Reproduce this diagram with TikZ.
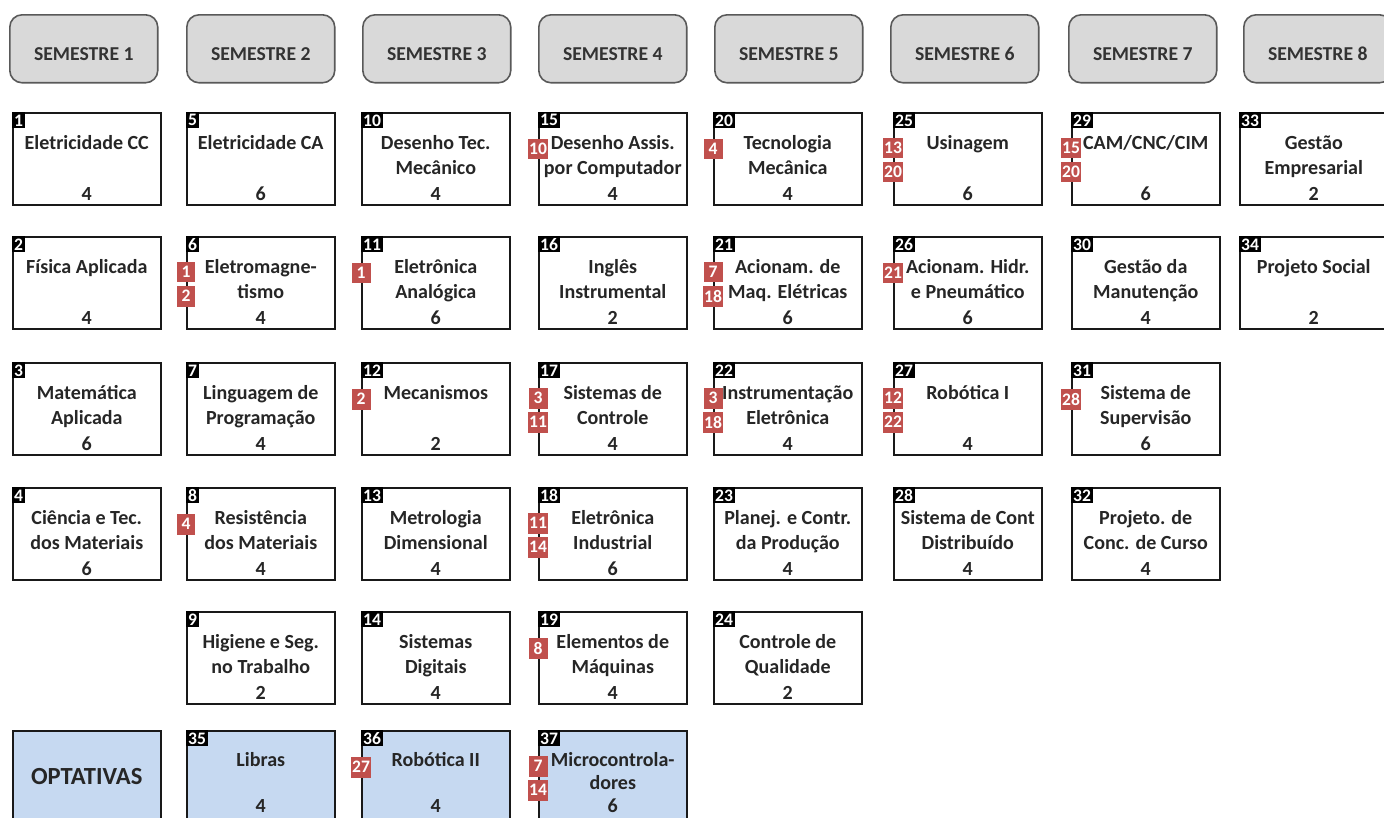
\documentclass[tikz,border=0pt]{standalone}
\usepackage{fontspec}
\setmainfont{Carlito}
\usetikzlibrary{calc,positioning}
\definecolor{semGray}{HTML}{D9D9D9}
\definecolor{semEdge}{HTML}{595959}
\definecolor{optBlue}{HTML}{C6D9F1}
\definecolor{reqRed}{HTML}{C0504D}
\tikzset{
  semester/.style={draw=semEdge, fill=semGray, line width=0.9pt,
    rounded corners=7pt, anchor=north west, minimum width=2.96cm,
    minimum height=1.36cm, inner ysep=0pt, text height=25.7pt,
    text depth=12.8pt, font=\fontsize{11.2}{12}\selectfont\bfseries,
    text=black!80},
  box/.style={draw=black!90, fill=white, line width=0.9pt,
    anchor=north west, minimum width=2.96cm, minimum height=1.84cm},
  course/.style={box, inner ysep=0pt, inner xsep=2pt, align=center,
    text height=49.6pt, text depth=2.5pt,
    font=\fontsize{11.4}{14.5}\selectfont\bfseries, text=black!85},
  optbox/.style={box, fill=optBlue,
    font=\fontsize{14}{16}\selectfont\bfseries, text=black!85},
  optional/.style={fill=optBlue, text height=46.6pt, text depth=5.5pt,
    font=\fontsize{11.4}{13.2}\selectfont\bfseries},
  idtag/.style={fill=black, text=white, anchor=north west,
    inner xsep=1pt, inner ysep=0.5pt, minimum height=0.32cm,
    font=\fontsize{10}{10}\selectfont\bfseries},
  reqtag/.style={fill=reqRed, text=white, minimum width=0.38cm,
    minimum height=0.42cm, inner sep=0.5pt,
    font=\fontsize{10}{10}\selectfont\bfseries}
}
% box with its number in the corner
\newcommand{\course}[5][]{%
  \node[course,#1] (c#2) at (#3,#4) {#5};
  \node[idtag] (t#2) at (c#2.north west) {#2};}
% prerequisite tag on the left edge
\newcommand{\req}[3]{%
  \node[reqtag] (r#1-#2) at ($(c#1.north west)+(0,#3)$) {#2};}

\begin{document}
\begin{tikzpicture}[x=0.02cm, y=-0.02cm]
  \path[use as bounding box, clip] (0,0) rectangle (1384,818);

  % semester headers
  \foreach \s/\x in {1/9, 2/186, 3/362, 4/538, 5/714, 6/890, 7/1068, 8/1243}
    \node[semester] (sem\s) at (\x,14) {SEMESTRE \s};

  % semester 1
  \course{1}{12}{112}{Eletricidade CC\\\mbox{}\\4}
  \course{2}{12}{236}{Física Aplicada\\\mbox{}\\4}
  \course{3}{12}{362}{Matemática\\Aplicada\\6}
  \course{4}{12}{487}{Ciência e Tec.\\dos Materiais\\6}
  % semester 2
  \course{5}{186}{112}{Eletricidade CA\\\mbox{}\\6}
  \course{6}{186}{236}{Eletromagne-\\tismo\\4}
  \course{7}{186}{362}{Linguagem de\\Programação\\4}
  \course{8}{186}{487}{Resistência\\dos Materiais\\4}
  \course{9}{186}{611}{Higiene e Seg.\\no Trabalho\\2}
  % semester 3
  \course{10}{361}{112}{Desenho Tec.\\Mecânico\\4}
  \course{11}{361}{236}{Eletrônica\\Analógica\\6}
  \course{12}{361}{362}{Mecanismos\\\mbox{}\\2}
  \course{13}{361}{487}{Metrologia\\Dimensional\\4}
  \course{14}{361}{611}{Sistemas\\Digitais\\4}
  % semester 4
  \course{15}{538}{112}{Desenho Assis.\\por Computador\\4}
  \course{16}{538}{236}{Inglês\\Instrumental\\2}
  \course{17}{538}{362}{Sistemas de\\Controle\\4}
  \course{18}{538}{487}{Eletrônica\\Industrial\\6}
  \course{19}{538}{611}{Elementos de\\Máquinas\\4}
  % semester 5
  \course{20}{713}{112}{Tecnologia\\Mecânica\\4}
  \course{21}{713}{236}{Acionam. de\\Maq. Elétricas\\6}
  \course{22}{713}{362}{Instrumentação\\Eletrônica\\4}
  \course{23}{713}{487}{Planej. e Contr.\\da Produção\\4}
  \course{24}{713}{611}{Controle de\\Qualidade\\2}
  % semester 6
  \course{25}{893}{112}{Usinagem\\\mbox{}\\6}
  \course{26}{893}{236}{Acionam. Hidr.\\e Pneumático\\6}
  \course{27}{893}{362}{Robótica I\\\mbox{}\\4}
  \course{28}{893}{487}{Sistema de Cont\\Distribuído\\4}
  % semester 7
  \course{29}{1071}{112}{CAM/CNC/CIM\\\mbox{}\\6}
  \course{30}{1071}{236}{Gestão da\\Manutenção\\4}
  \course{31}{1071}{362}{Sistema de\\Supervisão\\6}
  \course{32}{1071}{487}{Projeto. de\\Conc. de Curso\\4}
  % semester 8
  \course{33}{1239}{112}{Gestão\\Empresarial\\2}
  \course{34}{1239}{236}{Projeto Social\\\mbox{}\\2}

  % optional courses
  \node[optbox] (opt) at (12,730) {OPTATIVAS};
  \course[optional]{35}{186}{730}{Libras\\\mbox{}\\4}
  \course[optional]{36}{361}{730}{Robótica II\\\mbox{}\\4}
  \course[optional]{37}{538}{730}{Microcontrola-\\dores\\6}

  % prerequisites
  \req{6}{1}{36}   \req{6}{2}{60}
  \req{8}{4}{37}
  \req{11}{1}{37}
  \req{12}{2}{37}
  \req{15}{10}{37}
  \req{17}{3}{36}  \req{17}{11}{60}
  \req{18}{11}{36} \req{18}{14}{60}
  \req{19}{8}{37}
  \req{20}{4}{37}
  \req{21}{7}{36}  \req{21}{18}{60}
  \req{22}{3}{36}  \req{22}{18}{60}
  \req{25}{13}{36} \req{25}{20}{60}
  \req{26}{21}{37}
  \req{27}{12}{36} \req{27}{22}{60}
  \req{29}{15}{36} \req{29}{20}{60}
  \req{31}{28}{37}
  \req{36}{27}{37}
  \req{37}{7}{36}  \req{37}{14}{60}
\end{tikzpicture}
\end{document}
